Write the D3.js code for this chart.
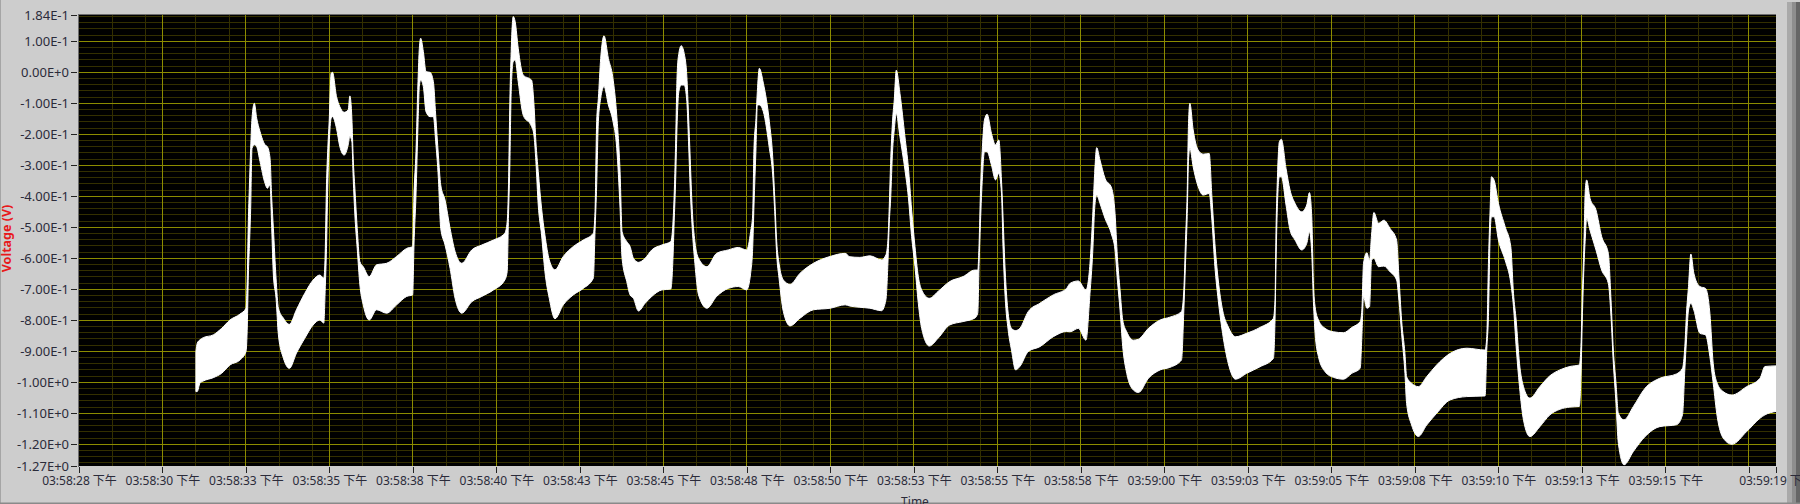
<!DOCTYPE html>
<html lang="en">
<head>
<meta charset="UTF-8">
<title>Voltage vs Time</title>
<script src="https://d3js.org/d3.v7.min.js"></script>
<style>
  html, body { margin: 0; padding: 0; background: #cdcdcd; overflow: hidden; }
  svg { display: block; }
  text { font-family: "Noto Sans", "Noto Sans CJK SC", sans-serif; }
</style>
</head>
<body>
<svg id="chart" width="1800" height="504"></svg>
<script>
// seconds after 03:58:28, then the upper and lower edge of the white trace in volts
const seconds = [
  3.50,3.54,3.62,3.72,4.02,4.27,4.52,4.82,5.00,5.04,5.07,5.10,5.14,5.18,5.25,5.32,5.42,5.57,5.64,5.72,5.77,5.82,5.90,5.97,6.12,6.30,6.51,6.76,7.01,7.21,7.33,7.37,7.41,7.45,7.49,7.55,7.59,7.71,7.81,7.94,8.06,8.11,8.17,8.21,8.26,8.33,8.41,8.51,8.69,8.91,9.21,9.51,9.81,
  9.99,10.03,10.09,10.15,10.19,10.23,10.31,10.39,10.51,10.61,10.68,10.76,10.83,10.96,11.11,11.26,11.46,11.76,12.06,12.41,12.75,12.82,12.86,12.90,12.94,13.00,13.06,13.15,13.30,13.55,13.62,13.68,13.75,13.85,13.95,14.08,14.25,14.50,14.80,15.10,15.40,15.45,15.50,15.55,15.62,15.72,15.85,15.98,16.10,16.20,16.26,16.40,
  16.50,16.60,16.75,16.95,17.15,17.45,17.72,17.78,17.82,17.86,17.91,17.96,18.03,18.12,18.20,18.25,18.30,18.36,18.44,18.55,18.80,19.09,19.44,19.74,19.99,20.11,20.17,20.21,20.27,20.31,20.37,20.49,20.67,20.77,20.83,20.89,20.96,21.09,21.29,21.59,21.99,22.49,22.94,
  23.08,23.38,23.68,24.03,24.16,24.22,24.26,24.30,24.36,24.41,24.47,24.58,24.73,24.83,24.93,25.03,25.13,25.23,25.46,25.72,26.07,26.47,26.82,26.91,26.95,26.99,27.05,27.11,27.19,27.32,27.44,27.54,27.62,27.67,27.73,27.82,27.92,28.04,28.17,28.42,28.77,29.17,29.57,
  29.67,29.92,30.15,30.27,30.35,30.41,30.47,30.57,30.72,30.92,31.02,31.09,31.17,31.25,31.37,31.57,31.72,32.02,32.37,32.66,33.01,33.08,33.13,33.18,33.22,33.26,33.36,33.51,33.66,33.84,33.92,34.01,34.11,34.24,34.41,34.63,34.96,35.36,35.76,35.81,35.84,35.88,35.94,36.00,36.14,
  36.26,36.41,36.61,36.76,36.84,36.91,36.96,37.01,37.11,37.31,37.56,37.86,38.11,38.36,38.41,38.46,38.56,38.64,38.70,38.77,38.91,39.07,39.25,39.45,39.52,39.60,39.70,39.75,39.90,40.10,40.35,40.65,41.05,41.55,42.10,42.15,42.20,42.25,42.29,42.37,42.50,42.70,42.87,42.95,43.03,43.13,43.25,
  43.44,43.74,44.04,44.34,44.64,44.92,44.97,45.01,45.06,45.10,45.14,45.24,45.42,45.59,45.79,45.87,45.94,46.02,46.09,46.26,46.54,46.89,47.33,47.83,48.01,48.08,48.13,48.19,48.26,48.35,48.53,48.70,48.83,48.93,49.05,49.23,49.49,49.93,50.33,50.48,50.81
];
const upper = [
  -.901,-.874,-.863,-.856,-.847,-.826,-.799,-.780,-.761,-.654,-.482,-.374,-.245,-.148,-.100,-.148,-.191,-.234,-.240,-.277,-.406,-.503,-.664,-.761,-.793,-.813,-.766,-.713,-.670,-.654,-.664,-.589,-.363,-.245,-.159,-.003,0,-.078,-.111,-.129,-.121,-.076,-.148,-.277,-.374,-.503,-.611,-.627,-.659,-.621,-.616,-.594,-.568,
  -.562,-.396,-.256,-.030,.078,.110,.067,.002,0,-.030,-.138,-.267,-.363,-.412,-.503,-.578,-.616,-.573,-.557,-.541,-.519,-.482,-.363,-.095,.067,.180,.163,.078,-.009,-.025,-.100,-.224,-.320,-.439,-.525,-.605,-.637,-.594,-.562,-.541,-.519,-.449,-.159,-.084,.045,.118,.045,-.014,-.138,-.320,-.514,-.546,
  -.562,-.600,-.613,-.600,-.573,-.557,-.546,-.492,-.396,-.245,-.003,.061,.086,.061,-.014,-.138,-.277,-.439,-.546,-.600,-.627,-.584,-.573,-.565,-.573,-.514,-.460,-.245,-.148,-.062,.013,-.035,-.159,-.272,-.401,-.546,-.616,-.670,-.684,-.648,-.616,-.594,-.584,
  -.595,-.597,-.592,-.605,-.589,-.541,-.433,-.294,-.154,-.089,.007,-.068,-.208,-.304,-.444,-.562,-.659,-.702,-.729,-.707,-.675,-.659,-.638,-.638,-.552,-.390,-.240,-.154,-.135,-.197,-.234,-.218,-.347,-.476,-.638,-.777,-.826,-.833,-.826,-.772,-.745,-.718,-.697,
  -.681,-.673,-.702,-.616,-.466,-.326,-.243,-.283,-.342,-.374,-.455,-.595,-.702,-.799,-.837,-.864,-.861,-.826,-.799,-.790,-.772,-.702,-.541,-.391,-.165,-.100,-.186,-.251,-.264,-.262,-.401,-.552,-.670,-.767,-.821,-.853,-.842,-.823,-.794,-.735,-.509,-.348,-.224,-.216,-.310,
  -.380,-.423,-.450,-.428,-.388,-.466,-.681,-.756,-.799,-.826,-.837,-.840,-.823,-.804,-.767,-.616,-.582,-.606,-.525,-.452,-.487,-.477,-.503,-.541,-.659,-.799,-.907,-.982,-1.003,-1.014,-.982,-.944,-.907,-.890,-.896,-.853,-.616,-.444,-.337,-.348,-.423,-.498,-.563,-.713,-.799,-.939,-1.014,
  -1.051,-1.014,-.979,-.960,-.949,-.944,-.885,-.724,-.552,-.380,-.347,-.406,-.444,-.530,-.584,-.734,-.896,-1.003,-1.100,-1.121,-1.078,-1.019,-.987,-.973,-.955,-.885,-.777,-.691,-.586,-.648,-.691,-.697,-.777,-.939,-1.003,-1.030,-1.041,-1.014,-.987,-.949,-.947
];
const lower = [
  -1.030,-1.030,-1.003,-.996,-.985,-.971,-.944,-.928,-.901,-.815,-.654,-.568,-.439,-.245,-.234,-.240,-.288,-.358,-.374,-.363,-.503,-.654,-.729,-.847,-.922,-.955,-.906,-.858,-.815,-.799,-.809,-.707,-.568,-.363,-.234,-.148,-.143,-.181,-.240,-.267,-.234,-.207,-.224,-.342,-.460,-.568,-.686,-.750,-.799,-.766,-.777,-.750,-.723,
  -.718,-.557,-.396,-.170,-.046,-.025,-.046,-.127,-.143,-.143,-.224,-.342,-.503,-.557,-.632,-.729,-.777,-.740,-.723,-.702,-.670,-.643,-.460,-.299,-.062,.034,.040,-.030,-.138,-.175,-.202,-.288,-.428,-.525,-.643,-.729,-.795,-.750,-.718,-.697,-.664,-.514,-.363,-.159,-.084,-.046,-.105,-.154,-.245,-.439,-.600,-.675,
  -.718,-.729,-.770,-.745,-.723,-.702,-.699,-.611,-.482,-.363,-.159,-.062,-.041,-.041,-.095,-.224,-.374,-.503,-.616,-.718,-.761,-.723,-.697,-.691,-.702,-.648,-.568,-.428,-.245,-.105,-.105,-.127,-.245,-.331,-.449,-.589,-.664,-.772,-.818,-.793,-.766,-.761,-.750,
  -.754,-.758,-.761,-.769,-.734,-.616,-.487,-.412,-.251,-.186,-.132,-.208,-.315,-.401,-.530,-.627,-.745,-.826,-.883,-.858,-.815,-.804,-.793,-.777,-.616,-.487,-.337,-.256,-.256,-.299,-.347,-.326,-.390,-.573,-.724,-.831,-.896,-.960,-.949,-.901,-.885,-.853,-.836,
  -.837,-.826,-.864,-.713,-.584,-.439,-.396,-.423,-.471,-.525,-.573,-.670,-.767,-.885,-.971,-1.025,-1.033,-.987,-.960,-.952,-.928,-.767,-.616,-.466,-.283,-.245,-.305,-.369,-.396,-.391,-.477,-.627,-.735,-.842,-.939,-.990,-.971,-.950,-.923,-.799,-.616,-.434,-.337,-.337,-.428,
  -.509,-.541,-.573,-.552,-.514,-.584,-.740,-.842,-.917,-.966,-.984,-.990,-.971,-.955,-.853,-.724,-.761,-.756,-.606,-.600,-.627,-.625,-.643,-.670,-.735,-.842,-.971,-1.068,-1.138,-1.175,-1.138,-1.100,-1.057,-1.046,-1.044,-.896,-.788,-.530,-.466,-.466,-.541,-.606,-.681,-.756,-.885,-1.014,-1.122,
  -1.175,-1.143,-1.105,-1.087,-1.080,-1.078,-.982,-.799,-.627,-.535,-.471,-.509,-.573,-.638,-.681,-.788,-.939,-1.068,-1.197,-1.266,-1.223,-1.175,-1.143,-1.137,-1.105,-.960,-.863,-.767,-.745,-.767,-.842,-.847,-.917,-1.003,-1.111,-1.180,-1.200,-1.159,-1.116,-1.105,-1.094
];

const yTicks = [.184,.1,0,-.1,-.2,-.3,-.4,-.5,-.6,-.7,-.8,-.9,-1,-1.1,-1.2,-1.27];
const xTicks = [0,2.5,5,7.5,10,12.5,15,17.5,20,22.5,25,27.5,30,32.5,35,37.5,40,42.5,45,47.5,50,50.81];
const xTickLabels = ["03:58:28 下午","03:58:30 下午","03:58:33 下午","03:58:35 下午","03:58:38 下午","03:58:40 下午","03:58:43 下午","03:58:45 下午","03:58:48 下午","03:58:50 下午","03:58:53 下午","03:58:55 下午","03:58:58 下午","03:59:00 下午","03:59:03 下午","03:59:05 下午","03:59:08 下午","03:59:10 下午","03:59:13 下午","03:59:15 下午","","03:59:19 下午"];

const plotLeft = 79, plotRight = 1776, plotTop = 15.3, plotBottom = 466;

const x = d3.scaleLinear().domain([0, 50.81]).range([plotLeft, plotRight]);
const y = d3.scaleLinear().domain([.184, -1.27]).range([plotTop, plotBottom]);

const svg = d3.select("#chart");

// window edges, the last tick label runs over these
const edges = [
  [1787, 5, "#a9a9a9"],
  [1792, 4, "#8e8e8e"],
  [1796, 4, "#666"]
];
svg.selectAll(".edge").data(edges).enter().append("rect")
  .attr("x", d => d[0]).attr("y", 2)
  .attr("width", d => d[1]).attr("height", 502)
  .attr("fill", d => d[2]);
svg.append("rect").attr("x", 0).attr("y", 0).attr("width", 1).attr("height", 504).attr("fill", "#a5a5a5");
svg.append("rect").attr("x", 0).attr("y", 502.5).attr("width", 1800).attr("height", 1.5).attr("fill", "#8a8a8a");

svg.append("clipPath").attr("id", "plot-clip")
  .append("rect")
  .attr("x", plotLeft).attr("y", plotTop - 1)
  .attr("width", plotRight - plotLeft).attr("height", plotBottom - plotTop + 1);

// plot background
svg.append("rect")
  .attr("x", plotLeft - 0.5).attr("y", plotTop - 1)
  .attr("width", plotRight - plotLeft + 0.5).attr("height", plotBottom - plotTop + 1)
  .attr("fill", "#000");

const grid = svg.append("g").attr("shape-rendering", "crispEdges");

// minor lines: every 0.02 V, and 1 s and 2 s after each major time tick
const yMinor = d3.range(-63, 10).map(i => i * 0.02)
  .filter(v => v > -1.27 && v < .184);
const xMinor = xTicks.slice(0, -1).flatMap(t => [t + 1, t + 2]).filter(t => t < 50.81);

grid.selectAll(".ym").data(yMinor).enter().append("line")
  .attr("x1", plotLeft).attr("x2", plotRight)
  .attr("y1", d => y(d)).attr("y2", d => y(d))
  .attr("stroke", "#332f00");
grid.selectAll(".xm").data(xMinor).enter().append("line")
  .attr("y1", plotTop).attr("y2", plotBottom)
  .attr("x1", d => x(d)).attr("x2", d => x(d))
  .attr("stroke", "#332f00");
grid.selectAll(".yM").data(yTicks.slice(1, -1)).enter().append("line")
  .attr("x1", plotLeft).attr("x2", plotRight)
  .attr("y1", d => y(d)).attr("y2", d => y(d))
  .attr("stroke", "#8c8c00");
grid.selectAll(".xM").data(xTicks.slice(1, -1)).enter().append("line")
  .attr("y1", plotTop).attr("y2", plotBottom)
  .attr("x1", d => x(d)).attr("x2", d => x(d))
  .attr("stroke", "#8c8c00");

// the trace
const points = seconds.map((t, i) => ({ t, hi: upper[i], lo: lower[i] }));
const band = d3.area()
  .curve(d3.curveMonotoneX)
  .x(d => x(d.t))
  .y0(d => y(d.lo))
  .y1(d => y(d.hi));

svg.append("path")
  .datum(points)
  .attr("clip-path", "url(#plot-clip)")
  .attr("d", band)
  .attr("fill", "#fff")
  .attr("stroke", "#fff")
  .attr("stroke-width", 1);

// plot frame, top and left only
svg.append("path")
  .attr("d", `M${plotLeft - 0.5},${plotBottom + 1}V${plotTop - 1}H${plotRight}`)
  .attr("fill", "none")
  .attr("stroke", "#6e6e6e")
  .attr("stroke-width", 1)
  .attr("shape-rendering", "crispEdges");

// axes
const yAxis = d3.axisLeft(y)
  .tickValues(yTicks)
  .tickSize(6)
  .tickPadding(2)
  .tickFormat(d => d.toExponential(2).toUpperCase());
const yAxisG = svg.append("g")
  .attr("transform", `translate(${plotLeft - 2},0)`)
  .call(yAxis);
yAxisG.select(".domain").remove();
yAxisG.selectAll(".tick text").style("font-size", "13px");

const xAxis = d3.axisBottom(x)
  .tickValues(xTicks)
  .tickSize(6)
  .tickPadding(3)
  .tickFormat((d, i) => xTickLabels[i]);
const xAxisG = svg.append("g")
  .attr("transform", `translate(0,${plotBottom + 1})`)
  .call(xAxis);
xAxisG.select(".domain").remove();
xAxisG.selectAll(".tick text").style("font-size", "12px");

svg.selectAll(".tick line").attr("stroke", "#222").attr("shape-rendering", "crispEdges");
svg.selectAll(".tick text").attr("fill", "#2b2b3a");

// axis titles
svg.append("text")
  .attr("transform", "translate(10.5,238.5) rotate(-90)")
  .attr("text-anchor", "middle")
  .attr("fill", "#e8191c")
  .style("font-size", "12.5px")
  .style("font-weight", "700")
  .text("Voltage (V)");

svg.append("text")
  .attr("x", 915).attr("y", 506)
  .attr("text-anchor", "middle")
  .attr("fill", "#2b2b3a")
  .style("font-size", "12px")
  .text("Time");
</script>
</body>
</html>
